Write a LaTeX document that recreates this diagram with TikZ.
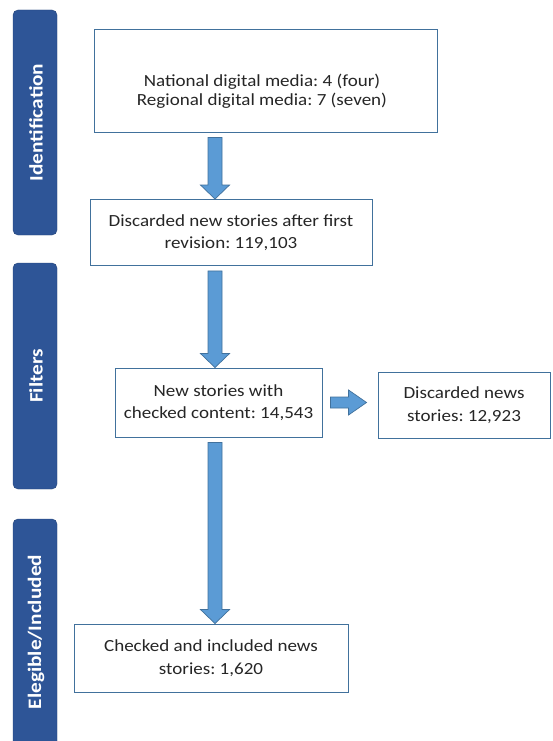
\documentclass[tikz,border=0pt]{standalone}
\usepackage{fontspec}
\setmainfont{Carlito}[FakeStretch=1.12]
\frenchspacing
\usetikzlibrary{calc}
\definecolor{barblue}{HTML}{2E5597}
\definecolor{boxline}{HTML}{41719C}
\definecolor{arrfill}{HTML}{5B9BD5}
\definecolor{txt}{HTML}{262626}
\tikzset{
  sidebar/.style={fill=barblue, draw=barblue!80!black, line width=0.4pt, rounded corners=5pt},
  sidelabel/.style={text=white, font=\fontsize{19}{22}\selectfont\bfseries, rotate=90},
  flowbox/.style={draw=boxline, line width=0.9pt, fill=white, align=center, text=txt,
    font=\fontsize{17}{22.5}\selectfont, inner sep=0pt},
  flowtext/.style={align=center, text=txt, font=\fontsize{17}{19.5}\selectfont, inner sep=0pt},
  blockarrow/.style={fill=arrfill, draw=boxline, line width=0.7pt, line join=miter}
}
\begin{document}
\begin{tikzpicture}[x=1pt,y=-1pt]
\useasboundingbox (0,0) rectangle (552,741);
\fill[white] (0,0) rectangle (552,741);
\begin{scope}
\clip (0,0) rectangle (552,741);
% side bars
\draw[sidebar] (13,10) rectangle (57,235);
\node[sidelabel] (lid) at (36,122.5) {Identification};
\draw[sidebar] (13,263) rectangle (57,489);
\node[sidelabel] (lfi) at (36,376) {Filters};
\draw[sidebar] (13,519) rectangle (57,750);
\node[sidelabel] (lel) at (36,632) {Elegible/Included};
\end{scope}
% boxes
\node[flowbox, minimum width=343pt, minimum height=103pt] (b1) at (265.5,80.5) {};
\node[flowtext] (t1) at (262,91)
  {National digital media: 4 (four)\\Regional digital media: 7 (seven)};
\node[flowbox, minimum width=282pt, minimum height=66pt] (b2) at (231,232.5)
  {Discarded new stories after first\\revision: 119,103};
\node[flowbox, minimum width=207pt, minimum height=69pt] (b3) at (218.5,402.5)
  {New stories with\\checked content: 14,543};
\node[flowbox, minimum width=172pt, minimum height=66pt] (b4) at (464,405)
  {Discarded news\\stories: 12,923};
\node[flowbox, minimum width=274pt, minimum height=68pt] (b5) at (211,658)
  {Checked and included news\\stories: 1,620};
% arrow axis
\coordinate (ax) at (215,0);
% vertical block arrows
\draw[blockarrow] let \p1=($(b1.south -| ax)+(0,5)$), \p2=(b2.north -| ax) in
  (\x1-7pt,\y1) -- (\x1+7pt,\y1) -- (\x1+7pt,\y2+14pt) -- (\x1+14.5pt,\y2+14pt)
  -- (\x1,\y2) -- (\x1-14.5pt,\y2+14pt) -- (\x1-7pt,\y2+14pt) -- cycle;
\draw[blockarrow] let \p1=($(b2.south -| ax)+(0,5)$), \p2=(b3.north -| ax) in
  (\x1-7pt,\y1) -- (\x1+7pt,\y1) -- (\x1+7pt,\y2+14pt) -- (\x1+14.5pt,\y2+14pt)
  -- (\x1,\y2) -- (\x1-14.5pt,\y2+14pt) -- (\x1-7pt,\y2+14pt) -- cycle;
\draw[blockarrow] let \p1=($(b3.south -| ax)+(0,5)$), \p2=(b5.north -| ax) in
  (\x1-7pt,\y1) -- (\x1+7pt,\y1) -- (\x1+7pt,\y2+14pt) -- (\x1+14.5pt,\y2+14pt)
  -- (\x1,\y2) -- (\x1-14.5pt,\y2+14pt) -- (\x1-7pt,\y2+14pt) -- cycle;
% horizontal block arrow
\coordinate (hy) at (0,402.5);
\draw[blockarrow] let \p1=($(b3.east |- hy)+(8,0)$), \p2=($(b4.west |- hy)+(-11,0)$) in
  (\x1,\y1+5.5pt) -- (\x2-18pt,\y1+5.5pt) -- (\x2-18pt,\y1+12.5pt) -- (\x2,\y1)
  -- (\x2-18pt,\y1-12.5pt) -- (\x2-18pt,\y1-5.5pt) -- (\x1,\y1-5.5pt) -- cycle;
\end{tikzpicture}
\end{document}
